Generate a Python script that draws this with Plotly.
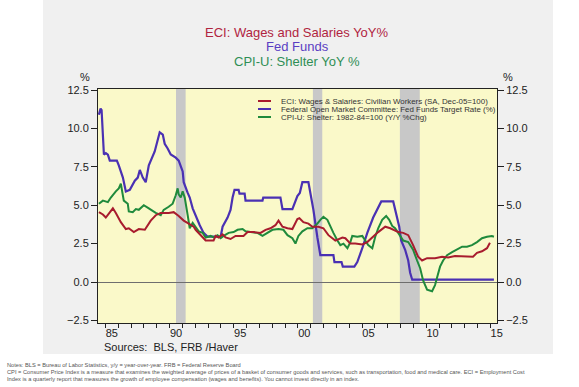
import plotly.graph_objects as go

# ---------------- data ----------------
fed_years = [1984.49, 1984.62, 1984.70, 1984.88, 1985.03, 1985.19, 1985.34, 1985.66, 1985.89, 1986.04,
             1986.36, 1986.59, 1986.90, 1987.29, 1987.52, 1987.68, 1987.91, 1988.14, 1988.38, 1988.84,
             1989.08, 1989.23, 1989.47, 1989.62, 1989.85, 1990.09, 1990.48, 1990.71, 1991.02, 1991.10,
             1991.41, 1991.57, 1991.80, 1992.19, 1992.35, 1992.65, 1992.97, 1993.98, 1994.13, 1994.52,
             1994.75, 1994.91, 1995.06, 1995.38, 1995.45, 1995.85, 1995.92, 1997.24, 1997.30, 1998.64,
             1998.80, 1999.57, 1999.81, 1999.96, 2000.15, 2000.35, 2000.82, 2001.21, 2001.52, 2001.75,
             2002.77, 2002.85, 2003.40, 2003.50, 2004.40, 2004.63, 2005.02, 2005.41, 2005.87, 2006.26,
             2006.50, 2007.43, 2007.74, 2007.90, 2008.05, 2008.36, 2008.60, 2008.75, 2008.91, 2015.28]
fed_values = [10.9, 11.3, 11.2, 8.3, 8.4, 8.3, 7.9, 7.9, 7.9, 7.6,
              6.8, 5.9, 6.0, 6.6, 6.8, 7.3, 6.8, 6.5, 7.6, 8.5,
              9.4, 9.75, 9.6, 9.0, 8.7, 8.3, 8.1, 7.9, 7.2, 6.5,
              5.8, 5.5, 4.8, 4.0, 3.7, 3.2, 2.95, 2.95, 3.6, 4.2,
              4.7, 5.5, 6.0, 6.0, 5.75, 5.75, 5.3, 5.3, 5.5, 5.5,
              4.75, 4.75, 5.2, 5.6, 5.8, 6.5, 6.5, 4.7, 2.9, 1.75,
              1.75, 1.3, 1.3, 1.0, 1.0, 1.3, 2.2, 3.2, 4.2, 4.9,
              5.25, 5.25, 4.2, 3.6, 2.7, 2.1, 1.4, 0.6, 0.15, 0.15]

eci_years = [1984.49, 1984.80, 1985.03, 1985.27, 1985.58, 1985.81, 1986.20, 1986.59, 1986.82, 1987.21,
             1987.60, 1988.07, 1988.30, 1988.53, 1988.92, 1989.31, 1989.93, 1990.32, 1990.71, 1991.10,
             1991.49, 1991.88, 1992.03, 1992.27, 1992.58, 1992.81, 1993.43, 1993.59, 1993.82, 1994.13,
             1994.36, 1994.75, 1995.14, 1995.76, 1996.08, 1996.54, 1997.09, 1997.48, 1997.86, 1998.25,
             1998.49, 1998.80, 1999.19, 1999.57, 1999.96, 2000.12, 2000.43, 2000.82, 2001.13, 2001.60,
             2001.99, 2002.38, 2002.92, 2003.47, 2003.70, 2004.09, 2004.47, 2005.02, 2005.41, 2005.80,
             2006.26, 2006.81, 2007.20, 2007.58, 2007.82, 2008.21, 2008.60, 2008.98, 2009.37, 2009.68,
             2010.07, 2010.69, 2011.24, 2011.71, 2012.25, 2013.65, 2013.96, 2014.35, 2014.74, 2014.97]
eci_values = [4.55, 4.4, 4.2, 4.5, 4.8, 4.5, 3.9, 3.45, 3.5, 3.25,
              3.45, 3.4, 3.7, 4.0, 4.35, 4.5, 4.5, 4.55, 4.3, 4.0,
              3.8, 3.6, 3.4, 3.2, 2.9, 2.7, 2.7, 3.0, 2.9, 3.1,
              2.9, 2.8, 3.0, 3.0, 3.25, 3.25, 3.2, 3.4, 3.5, 3.7,
              4.0, 3.6, 3.5, 3.45, 4.1, 4.15, 3.9, 3.8, 3.6, 3.6,
              3.5, 3.05, 2.7, 2.9, 2.85, 2.5, 2.5, 2.45, 2.6, 2.9,
              3.25, 3.6, 3.5, 3.35, 3.25, 3.2, 3.05, 2.4, 1.65, 1.4,
              1.55, 1.55, 1.65, 1.6, 1.7, 1.65, 1.9, 2.0, 2.2, 2.55]

shelter_years = [1984.49, 1984.80, 1985.19, 1985.42, 1985.81, 1986.04, 1986.20, 1986.36, 1986.43, 1986.74,
                 1986.82, 1987.13, 1987.37, 1987.60, 1987.99, 1988.38, 1988.69, 1988.92, 1989.31, 1989.54,
                 1989.93, 1990.24, 1990.48, 1990.63, 1990.71, 1990.87, 1991.02, 1991.18, 1991.41, 1991.57,
                 1991.80, 1992.03, 1992.27, 1992.58, 1992.81, 1993.20, 1993.43, 1993.74, 1993.98, 1994.21,
                 1994.60, 1994.99, 1995.30, 1995.69, 1995.92, 1996.31, 1996.85, 1997.24, 1997.63, 1998.02,
                 1998.49, 1998.87, 1999.19, 1999.57, 1999.81, 2000.04, 2000.35, 2000.74, 2001.13, 2001.52,
                 2001.75, 2001.99, 2002.30, 2002.53, 2002.77, 2003.08, 2003.31, 2003.55, 2003.86, 2004.09,
                 2004.24, 2004.63, 2005.02, 2005.25, 2005.48, 2005.80, 2006.03, 2006.26, 2006.57, 2006.88,
                 2007.12, 2007.35, 2007.58, 2007.82, 2008.21, 2008.60, 2008.98, 2009.29, 2009.53, 2009.76,
                 2010.07, 2010.46, 2010.69, 2010.85, 2011.08, 2011.32, 2011.63, 2012.02, 2012.41, 2012.80,
                 2013.18, 2013.57, 2013.96, 2014.35, 2014.74, 2015.12, 2015.28]
shelter_values = [5.1, 5.3, 5.2, 5.5, 5.9, 6.1, 6.4, 5.7, 5.3, 5.1,
                  4.6, 4.55, 4.75, 4.7, 5.0, 4.8, 4.6, 4.5, 4.35, 4.7,
                  4.9, 5.1, 5.65, 6.1, 5.7, 5.5, 5.9, 5.5, 4.35, 3.5,
                  3.85, 3.6, 3.3, 3.2, 2.9, 3.0, 2.9, 3.05, 2.85, 3.0,
                  3.2, 3.25, 3.4, 3.45, 3.3, 3.25, 3.2, 3.0, 3.2, 3.4,
                  3.45, 3.4, 3.05, 2.85, 2.5, 3.0, 3.3, 3.5, 3.5, 3.8,
                  4.05, 4.25, 4.05, 3.6, 3.2, 2.7, 2.4, 2.5, 2.2, 2.6,
                  3.0, 2.95, 3.0, 2.7, 2.4, 2.2, 2.95, 3.5, 4.05, 4.3,
                  4.05, 3.65, 3.5, 3.2, 2.7, 2.6, 2.1, 1.4, 0.9, 0.1,
                  -0.5, -0.6, -0.2, 0.3, 1.0, 1.4, 1.75, 1.95, 2.15, 2.3,
                  2.3, 2.4, 2.6, 2.85, 2.95, 3.0, 2.95]

recession_starts = [1990.5, 2001.17, 2007.95]
recession_ends = [1991.25, 2001.9, 2009.5]

year_labels = ["85", "90", "95", "00", "05", "10", "15"]
year_label_pos = [1985.5, 1990.5, 1995.5, 2000.5, 2005.5, 2010.5, 2015.5]
year_ticks = list(range(1985, 2016))
y_ticks = [-2.5, 0.0, 2.5, 5.0, 7.5, 10.0, 12.5]

legend_names = ["ECI: Wages & Salaries: Civilian Workers (SA, Dec-05=100)",
                "Federal Open Market Committee: Fed Funds Target Rate (%)",
                "CPI-U: Shelter: 1982-84=100 (Y/Y %Chg)"]

# ---------------- styling ----------------
W, H = 579, 387
L, R, T, B = 98, 497, 89, 323
RED, BLUE, GREEN = "#A81C2E", "#4A31B3", "#1F8A3C"
PLOT_BG = "#FAF9C9"
FONT = "Arial, Liberation Sans, sans-serif"


def px(x):
    return (x - L) / (R - L)


def py(y):
    return (B - y) / (B - T)


fig = go.Figure()
fig.add_trace(go.Scatter(x=fed_years, y=fed_values, mode="lines",
                         line=dict(color=BLUE, width=2.2), name=legend_names[1], showlegend=False))
fig.add_trace(go.Scatter(x=shelter_years, y=shelter_values, mode="lines",
                         line=dict(color=GREEN, width=2), name=legend_names[2], showlegend=False))
fig.add_trace(go.Scatter(x=eci_years, y=eci_values, mode="lines", yaxis="y2",
                         line=dict(color=RED, width=2), name=legend_names[0], showlegend=False))

shapes = []
# gray panel behind the chart
shapes.append(dict(type="rect", xref="paper", yref="paper", x0=px(43), x1=px(553), y0=py(354), y1=py(-5),
                   fillcolor="#F0F0F0", line=dict(width=0), layer="below"))
# yellow plotting area (drawn over the panel)
shapes.append(dict(type="rect", xref="paper", yref="paper", x0=0, x1=1, y0=0, y1=1,
                   fillcolor=PLOT_BG, line=dict(width=0), layer="below"))
# recession bars
for s, e in zip(recession_starts, recession_ends):
    shapes.append(dict(type="rect", xref="x", yref="paper", x0=s, x1=e, y0=0, y1=1,
                       fillcolor="#C8C8C8", line=dict(width=0), layer="below"))
# manual legend samples
for i, c in enumerate([RED, BLUE, GREEN]):
    yy = py(101 + 8 * i)
    shapes.append(dict(type="line", xref="paper", yref="paper", x0=px(258), x1=px(271), y0=yy, y1=yy,
                       line=dict(color=c, width=2)))

annotations = []
for i, n in enumerate(legend_names):
    annotations.append(dict(xref="paper", yref="paper", x=px(279), y=py(101 + 8 * i), text=n,
                            showarrow=False, xanchor="left", yanchor="middle",
                            font=dict(family=FONT, size=7.9, color="#333333")))
# titles
for txt, col, yy in [("ECI: Wages and Salaries YoY%", "#B0243F", 33),
                     ("Fed Funds", "#5A3EC2", 47),
                     ("CPI-U: Shelter YoY %", "#2F8E55", 61)]:
    annotations.append(dict(xref="paper", yref="paper", x=px(297), y=py(yy), text=txt, showarrow=False,
                            xanchor="center", yanchor="middle", font=dict(family=FONT, size=13, color=col)))
# % unit labels
annotations.append(dict(xref="paper", yref="paper", x=px(85), y=py(77), text="%", showarrow=False,
                        xanchor="center", yanchor="middle", font=dict(family=FONT, size=11, color="#222")))
annotations.append(dict(xref="paper", yref="paper", x=px(508), y=py(77), text="%", showarrow=False,
                        xanchor="center", yanchor="middle", font=dict(family=FONT, size=11, color="#222")))
# sources
annotations.append(dict(xref="paper", yref="paper", x=px(102), y=py(347), text="Sources:  BLS, FRB /Haver",
                        showarrow=False, xanchor="left", yanchor="middle",
                        font=dict(family=FONT, size=11, color="#222")))
# notes
notes = ["Notes: BLS = Bureau of Labor Statistics, y/y = year-over-year. FRB = Federal Reserve Board",
         "CPI = Consumer Price Index is a measure that examines the weighted average of prices of a basket of consumer goods and services, such as transportation, food and medical care. ECI = Employment Cost",
         "Index is a quarterly report that measures the growth of employee compensation (wages and benefits). You cannot invest directly in an index."]
for i, n in enumerate(notes):
    annotations.append(dict(xref="paper", yref="paper", x=px(5), y=py(365 + 6.8 * i), text=n,
                            showarrow=False, xanchor="left", yanchor="middle",
                            font=dict(family=FONT, size=5.7, color="#555555")))

yrange = [-2.67, 12.57]
fig.update_layout(
    width=W, height=H,
    margin=dict(l=L, r=W - R, t=T, b=H - B, pad=0),
    paper_bgcolor="white",
    plot_bgcolor=PLOT_BG,
    font=dict(family=FONT, size=11, color="#222"),
    showlegend=False,
    shapes=shapes,
    annotations=annotations,
    xaxis=dict(range=[1984.42, 2015.52], tickvals=year_label_pos, ticktext=year_labels,
               ticks="", showgrid=False, zeroline=False,
               showline=True, linecolor="#222", linewidth=1, mirror=True,
               tickfont=dict(family=FONT, size=11, color="#222"),
               minor=dict(tickvals=year_ticks, ticks="outside", ticklen=4, tickcolor="#222", showgrid=False)),
    yaxis=dict(range=yrange, tickvals=y_ticks, tickformat=".1f", ticks="outside", ticklen=6,
               tickcolor="#222", showgrid=False, zeroline=True, zerolinecolor="#6E6E6E", zerolinewidth=1,
               showline=True, linecolor="#222", linewidth=1, mirror=True,
               tickfont=dict(family=FONT, size=11, color="#222")),
    yaxis2=dict(range=yrange, tickvals=y_ticks, tickformat=".1f", ticks="outside", ticklen=6,
                tickcolor="#222", showgrid=False, zeroline=False, overlaying="y", side="right",
                showline=True, linecolor="#222", linewidth=1,
                tickfont=dict(family=FONT, size=11, color="#222")),
)

fig.write_html("out.html", config={"displayModeBar": False},
               post_script="document.body.style.margin='0';document.body.style.overflow='hidden';")
